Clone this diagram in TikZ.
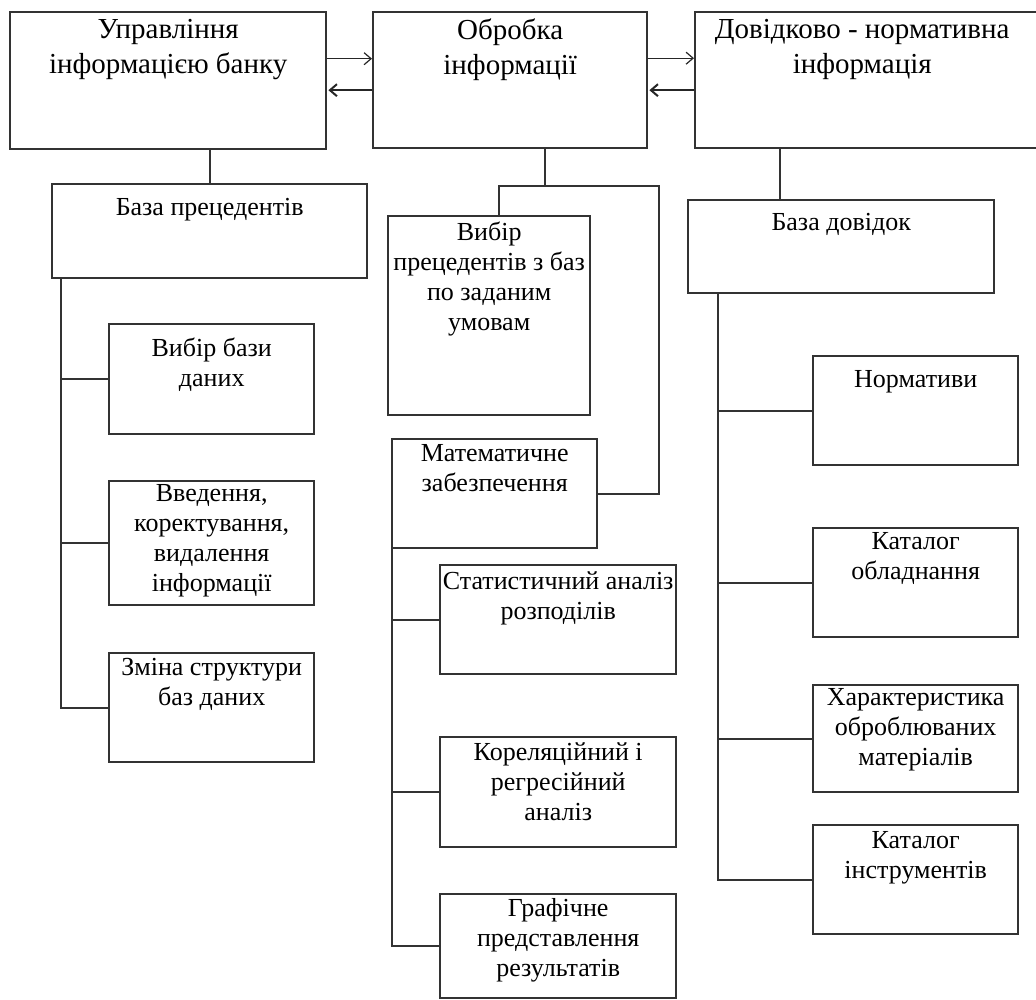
\documentclass[tikz,border=0pt]{standalone}
\usepackage{fontspec}
\setmainfont{Liberation Serif}
\usetikzlibrary{arrows.meta, positioning}
\newcommand{\topfont}{\fontsize{29}{35}\selectfont}
\newcommand{\lowfont}{\fontsize{26}{30}\selectfont}

\begin{document}
\begin{tikzpicture}[x=1pt, y=-1pt,
        box/.style={draw=black!80, line width=2.4pt, anchor=north west, inner sep=0pt},
        txt/.style={anchor=north, align=center, inner sep=0pt, font=\lowfont, yshift=#1},
        txt/.default=-6pt,
        link/.style={draw=black!80, line width=2pt},
        arr/.style={-{Straight Barb[length=7pt, width=12pt]}, draw=black!85}]
            \clip (0,0) rectangle (1036,1000);
            \fill[white] (0,0) rectangle (1036,1000);

            \node[box, minimum width=316pt, minimum height=137pt, label={[txt=-8pt, font=\topfont]north:{Управління\\інформацією банку}}] (upr) at (9,11) {};
            \node[box, minimum width=274pt, minimum height=136pt, label={[txt=-8pt, font=\topfont]north:{Обробка\\інформації}}] (obr) at (372,11) {};
            \node[box, minimum width=346pt, minimum height=136pt, label={[txt=-8pt, xshift=-6pt, font=\topfont]north:{Довідково - нормативна\\інформація}}] (dov) at (694,11) {};

            \node[box, minimum width=315pt, minimum height=94pt, label={[txt=-15pt]north:База прецедентів}] (bp) at (51,183) {};
            \node[box, minimum width=205pt, minimum height=110pt, label={[txt=-15pt]north:{Вибір бази\\даних}}] (vbd) at (108,323) {};
            \node[box, minimum width=205pt, minimum height=124pt, label={[txt=-4pt]north:{Введення,\\коректування,\\видалення\\інформації}}] (vvd) at (108,480) {};
            \node[box, minimum width=205pt, minimum height=109pt, label={[txt]north:{Зміна структури\\баз даних}}] (zsb) at (108,652) {};

            \node[box, minimum width=202pt, minimum height=199pt, label={[txt=-7pt]north:{Вибір\\прецедентів з баз\\по заданим\\умовам}}] (vpr) at (387,215) {};
            \node[box, minimum width=205pt, minimum height=109pt, label={[txt]north:{Математичне\\забезпечення}}] (mz) at (391,438) {};
            \node[box, minimum width=236pt, minimum height=109pt, label={[txt=-7pt]north:{Статистичний аналіз\\розподілів}}] (sa) at (439,564) {};
            \node[box, minimum width=236pt, minimum height=110pt, label={[txt]north:{Кореляційний і\\регресійний\\аналіз}}] (kr) at (439,736) {};
            \node[box, minimum width=236pt, minimum height=104pt, label={[txt=-5pt]north:{Графічне\\представлення\\результатів}}] (gr) at (439,893) {};

            \node[box, minimum width=306pt, minimum height=93pt, label={[txt=-14pt]north:База довідок}] (bd) at (687,199) {};
            \node[box, minimum width=205pt, minimum height=109pt, label={[txt=-15pt]north:Нормативи}] (nr) at (812,355) {};
            \node[box, minimum width=205pt, minimum height=109pt, label={[txt=-5pt]north:{Каталог\\обладнання}}] (ko) at (812,527) {};
            \node[box, minimum width=205pt, minimum height=107pt, label={[txt=-4pt]north:{Характеристика\\оброблюваних\\матеріалів}}] (hm) at (812,684) {};
            \node[box, minimum width=205pt, minimum height=109pt, label={[txt=-7pt]north:{Каталог\\інструментів}}] (ki) at (812,824) {};

            \draw[arr, line width=1.2pt] ([yshift=22pt]upr.east) -- ([yshift=22pt]upr.east -| obr.west);
            \draw[arr, line width=2pt, shorten >=1pt] ([yshift=-10pt]obr.west) -- ([yshift=-10pt]obr.west -| upr.east);
            \draw[arr, line width=1.2pt] ([yshift=22pt]obr.east) -- ([yshift=22pt]obr.east -| dov.west);
            \draw[arr, line width=2pt, shorten >=1pt] ([yshift=-10pt]dov.west) -- ([yshift=-10pt]dov.west -| obr.east);

            \draw[link] (bp.north) -- (bp.north |- upr.south);
            \coordinate (lt) at ([xshift=10pt]bp.south west);
            \draw[link] (lt) |- (zsb.west);
            \foreach \n in {vbd, vvd} \draw[link] (\n.west) -- (\n.west -| lt);

            \draw[link] ([xshift=35pt]obr.south) -- ++(0,37) coordinate (mj);
            \draw[link] ([xshift=10pt]vpr.north) |- (mj) -| ([xshift=61pt]mz.east) |- (mz.east);
            \coordinate (mt) at ([xshift=1pt]mz.south west);
            \draw[link] (mt) |- (gr.west);
            \foreach \n in {sa, kr} \draw[link] (\n.west) -- (\n.west -| mt);

            \draw[link] ([xshift=-61pt]bd.north) -- ([xshift=-61pt]bd.north |- dov.south);
            \coordinate (rt) at ([xshift=31pt]bd.south west);
            \draw[link] (rt) |- (ki.west);
            \foreach \n in {nr, ko, hm} \draw[link] (\n.west) -- (\n.west -| rt);
        \end{tikzpicture}
\end{document}
